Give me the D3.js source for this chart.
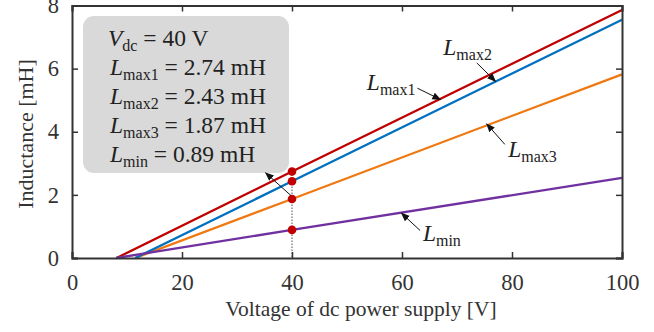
<!DOCTYPE html>
<html><head><meta charset="utf-8">
<script src="https://cdn.jsdelivr.net/npm/d3@7"></script>
<style>
body{margin:0;background:#fff;}
svg{display:block;font-family:"Liberation Serif","Times New Roman",serif;}
</style></head>
<body><svg id="c" width="654" height="332"></svg>
<script>
// ---- data ----
const seriesNames = ["Lmax1","Lmax2","Lmax3","Lmin"];
const colors = ["#c00000","#0070c0","#f07810","#7030a0"];
const voltLmax1 = [8.1, 40, 100];
const valLmax1  = [0, 2.74, 7.86];
const voltLmax2 = [11.5, 40, 100];
const valLmax2  = [0, 2.43, 7.55];
const voltLmax3 = [11.5, 40, 100];
const valLmax3  = [0, 1.87, 5.82];
const voltLmin  = [8.0, 40, 100];
const valLmin   = [0, 0.89, 2.54];
const vdc = 40;
const markVals = [2.74, 2.43, 1.87, 0.89];
const xTicks = [0,20,40,60,80,100];
const yTicks = [0,2,4,6,8];
const infoLines = [
  {m:"V", s:"dc", t:" = 40 V"},
  {m:"L", s:"max1", t:" = 2.74 mH"},
  {m:"L", s:"max2", t:" = 2.43 mH"},
  {m:"L", s:"max3", t:" = 1.87 mH"},
  {m:"L", s:"min", t:" = 0.89 mH"}
];
// annotation: label pos (data), arrow from -> to (data)
const annLabels = [
  {s:"max2", lx:67.5, ly:6.44, ax1:73.6, ay1:6.18, ax2:77.0, ay2:5.60},
  {s:"max1", lx:53.6, ly:5.32, ax1:62.8, ay1:5.38, ax2:67.0, ay2:5.02},
  {s:"max3", lx:79.3, ly:3.19, ax1:78.7, ay1:3.60, ax2:75.4, ay2:4.25},
  {s:"min",  lx:63.8, ly:0.54, ax1:63.3, ay1:0.87, ax2:59.9, ay2:1.42}
];
const boxArrow = {ax1:39.8, ay1:1.98, ax2:35.2, ay2:2.70};

// ---- layout ----
const svg = d3.select("#c");
const x = d3.scaleLinear().domain([0,100]).range([72,622]);
const y = d3.scaleLinear().domain([0,8]).range([258,5.5]);
const FS = 23.5, SS = 16;

const defs = svg.append("defs");
defs.append("marker").attr("id","ah").attr("viewBox","0 0 10 10")
  .attr("refX",9).attr("refY",5).attr("markerWidth",9).attr("markerHeight",9)
  .attr("markerUnits","userSpaceOnUse").attr("orient","auto")
  .append("path").attr("d","M0,1 L10,5 L0,9 Z").attr("fill","#111");

// info box
svg.append("rect").attr("x",83).attr("y",16).attr("width",206).attr("height",157)
  .attr("rx",11).attr("fill","#d9d9d9");
infoLines.forEach((d,i)=>{
  const t = svg.append("text").attr("x",i===0?108:110).attr("y",46+i*29).attr("font-size",FS).attr("fill","#222");
  t.append("tspan").attr("font-style","italic").text(d.m);
  t.append("tspan").attr("font-size",SS).attr("dy",5).text(d.s);
  t.append("tspan").attr("dy",-5).text(d.t);
});

// dotted vertical line
svg.append("line").attr("x1",x(vdc)).attr("x2",x(vdc)).attr("y1",y(markVals[0])).attr("y2",y(0))
  .attr("stroke","#888").attr("stroke-width",1.5).attr("stroke-dasharray","1.5,1.5");

// series lines
const line = d3.line().x(d=>x(d[0])).y(d=>y(d[1]));
const seriesData = [
  d3.zip(voltLmax1,valLmax1), d3.zip(voltLmax2,valLmax2),
  d3.zip(voltLmax3,valLmax3), d3.zip(voltLmin,valLmin)
];
[2,1,0,3].forEach(i=>{
  svg.append("path").datum(seriesData[i]).attr("d",line)
    .attr("fill","none").attr("stroke",colors[i]).attr("stroke-width",2.3);
});

// markers
svg.selectAll("circle.m").data(markVals).join("circle").attr("class","m")
  .attr("cx",x(vdc)).attr("cy",d=>y(d)).attr("r",4.3).attr("fill","#c00000");

// annotations
annLabels.forEach(a=>{
  const t = svg.append("text").attr("x",x(a.lx)).attr("y",y(a.ly)).attr("font-size",FS).attr("fill","#222");
  t.append("tspan").attr("font-style","italic").text("L");
  t.append("tspan").attr("font-size",SS).attr("dy",5).text(a.s);
  svg.append("line").attr("x1",x(a.ax1)).attr("y1",y(a.ay1)).attr("x2",x(a.ax2)).attr("y2",y(a.ay2))
    .attr("stroke","#111").attr("stroke-width",1).attr("marker-end","url(#ah)");
});
svg.append("line").attr("x1",x(boxArrow.ax1)).attr("y1",y(boxArrow.ay1))
  .attr("x2",x(boxArrow.ax2)).attr("y2",y(boxArrow.ay2))
  .attr("stroke","#111").attr("stroke-width",1).attr("marker-end","url(#ah)");

// axes frame
const axColor = "#333";
const gx = svg.append("g").attr("transform",`translate(0,${y(0)})`)
  .call(d3.axisBottom(x).tickValues(xTicks).tickSize(-6).tickPadding(16).tickFormat(d3.format("d")));
const gxt = svg.append("g").attr("transform",`translate(0,${y(8)})`)
  .call(d3.axisTop(x).tickValues(xTicks).tickSize(-6).tickFormat(""));
const gy = svg.append("g").attr("transform",`translate(${x(0)},0)`)
  .call(d3.axisLeft(y).tickValues(yTicks).tickSize(-6).tickPadding(13).tickFormat(d3.format("d")));
const gyr = svg.append("g").attr("transform",`translate(${x(100)},0)`)
  .call(d3.axisRight(y).tickValues(yTicks).tickSize(-6).tickFormat(""));
[gx,gxt,gy,gyr].forEach(g=>{
  g.select(".domain").attr("stroke",axColor).attr("stroke-width",2);
  g.selectAll(".tick line").attr("stroke",axColor).attr("stroke-width",1.5);
  g.selectAll("text").attr("font-family","Liberation Serif, serif").attr("font-size",22.5).attr("fill","#333");
});

svg.append("text").attr("x",361).attr("y",316).attr("text-anchor","middle")
  .attr("font-size",21.5).attr("fill","#333").text("Voltage of dc power supply [V]");
svg.append("text").attr("transform","translate(33,134) rotate(-90)").attr("text-anchor","middle")
  .attr("font-size",22).attr("fill","#333").text("Inductance [mH]");
</script></body></html>
